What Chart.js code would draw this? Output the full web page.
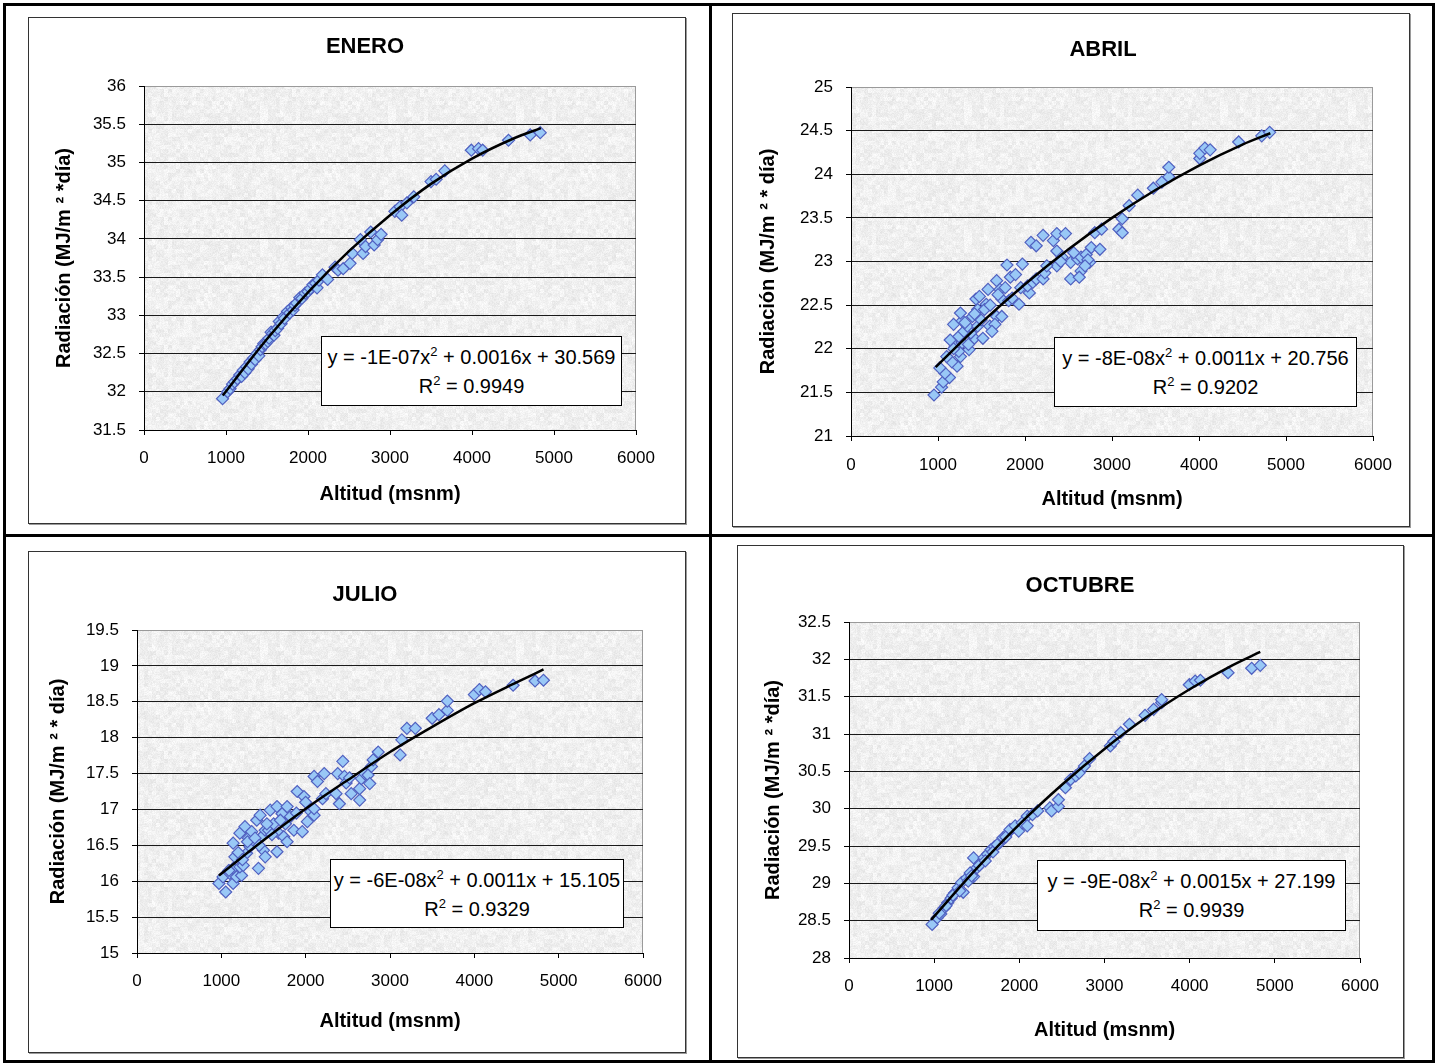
<!DOCTYPE html>
<html>
<head>
<meta charset="utf-8">
<title>Radiación vs Altitud</title>
<script src="https://cdn.jsdelivr.net/npm/chart.js@4.4.1/dist/chart.umd.min.js"></script>
<style>
    html, body { margin: 0; padding: 0; background: #fff; }
    body { width: 1439px; height: 1063px; position: relative; overflow: hidden;
           font-family: "Liberation Sans", Arial, sans-serif; color: #000; }
    .rule { position: absolute; background: #000; }
    .frame { position: absolute; background: #fff; border: 1px solid #333;
             box-shadow: 1px 1px 0 #9a9a9a; box-sizing: border-box; }
    canvas { position: absolute; }
    .eq { position: absolute; background: #fff; border: 1px solid #000; box-sizing: border-box;
          font-size: 20px; line-height: 29px; padding-top: 6px; text-align: center;
          white-space: nowrap; }
    .eq sup { font-size: 13px; line-height: 0; vertical-align: 8px; }
</style>
</head>
<body>
<div class="rule" style="left:3px;top:3px;width:1432px;height:3px"></div>
<div class="rule" style="left:3px;top:1060px;width:1432px;height:3px"></div>
<div class="rule" style="left:3px;top:3px;width:3px;height:1060px"></div>
<div class="rule" style="left:1432px;top:3px;width:3px;height:1060px"></div>
<div class="rule" style="left:709px;top:3px;width:3px;height:1060px"></div>
<div class="rule" style="left:3px;top:534px;width:1432px;height:3px"></div>

<div class="frame" style="left:28px;top:17px;width:658px;height:507px"></div>
<div class="frame" style="left:732px;top:13px;width:678px;height:514px"></div>
<div class="frame" style="left:28px;top:551px;width:658px;height:502px"></div>
<div class="frame" style="left:737px;top:545px;width:667px;height:513px"></div>

<canvas id="enero" width="658" height="507" style="left:28px;top:17px"></canvas>
<canvas id="abril" width="678" height="514" style="left:732px;top:13px"></canvas>
<canvas id="julio" width="658" height="502" style="left:28px;top:551px"></canvas>
<canvas id="octubre" width="667" height="513" style="left:737px;top:545px"></canvas>

<div class="eq" style="left:321px;top:336px;width:301px;height:70px">y = -1E-07x<sup>2</sup> + 0.0016x + 30.569<br>R<sup>2</sup> = 0.9949</div>
<div class="eq" style="left:1054px;top:337px;width:303px;height:70px">y = -8E-08x<sup>2</sup> + 0.0011x + 20.756<br>R<sup>2</sup> = 0.9202</div>
<div class="eq" style="left:330px;top:859px;width:294px;height:69px">y = -6E-08x<sup>2</sup> + 0.0011x + 15.105<br>R<sup>2</sup> = 0.9329</div>
<div class="eq" style="left:1037px;top:860px;width:309px;height:71px">y = -9E-08x<sup>2</sup> + 0.0015x + 27.199<br>R<sup>2</sup> = 0.9939</div>

<script>
(function () {
    'use strict';

    // ---- data ----
    var X_TICKS = [0, 1000, 2000, 3000, 4000, 5000, 6000];

    var eneroAlt = [958, 1020, 1050, 1080, 1105, 1140, 1168, 1190, 1210, 1230, 1252, 1270, 1294, 1310, 1336,
        1355, 1378, 1400, 1420, 1441, 1460, 1483, 1510, 1525, 1550, 1567, 1585, 1600, 1630, 1650, 1672,
        1700, 1714, 1750, 1777, 1800, 1819, 1840, 1861, 1900, 1924, 1966, 2000, 2029, 2060, 2092, 2110,
        2134, 2176, 2239, 2330, 2366, 2429, 2513, 2540, 2639, 2672, 2702, 2765, 2807, 2849, 2891, 3059,
        3122, 3143, 3206, 3290, 3500, 3563, 3668, 3992, 4080, 4130, 4445, 4710, 4832];
    var eneroRad = [31.91, 32.00, 32.04, 32.10, 32.13, 32.17, 32.22, 32.20, 32.28, 32.25, 32.33, 32.30, 32.39, 32.36, 32.44,
        32.42, 32.50, 32.47, 32.55, 32.59, 32.63, 32.63, 32.66, 32.70, 32.78, 32.76, 32.74, 32.80, 32.83, 32.92, 32.89,
        32.98, 32.96, 33.05, 33.03, 33.10, 33.07, 33.13, 33.16, 33.23, 33.22, 33.29, 33.31, 33.35, 33.40, 33.42, 33.36,
        33.46, 33.53, 33.47, 33.63, 33.59, 33.61, 33.68, 33.81, 33.99, 33.81, 33.90, 34.09, 33.92, 33.99, 34.06, 34.36,
        34.42, 34.31, 34.47, 34.55, 34.75, 34.78, 34.89, 35.16, 35.18, 35.16, 35.29, 35.36, 35.39];
    var eneroTrendAlt = [960, 1500, 2000, 2500, 3000, 3500, 4000, 4500, 4840];
    var eneroTrendRad = [31.95, 32.69, 33.30, 33.84, 34.31, 34.72, 35.05, 35.31, 35.45];

    var abrilAlt = [954, 1041, 1060, 1132, 1080, 1021, 1219, 1159, 1258, 1100, 1239, 1199, 1357, 1278,
        1140, 1417, 1239, 1516, 1377, 1298, 1179, 1338, 1456, 1278, 1397, 1258, 1456, 1555, 1674, 1733,
        1595, 1654, 1496, 1535, 1436, 1476, 1575, 1674, 1713, 1773, 1733, 1812, 1852, 1793, 1832, 1891,
        1931, 1970, 1951, 2050, 2030, 2089, 2129, 2069, 2129, 2208, 2228, 2208, 2326, 2366, 2465, 2366,
        2366, 2426, 2525, 2525, 2644, 2624, 2604, 2644, 2703, 2743, 2762, 2723, 2861, 2802, 2881, 3079,
        3118, 3118, 3197, 3296, 3475, 3573, 3653, 3653, 4009, 4009, 4068, 4128, 4456, 4721, 4812,
        1180, 1310, 1350, 1420, 1600, 1620, 1690, 2250, 2410, 2560, 2690];
    var abrilRad = [21.47, 21.56, 21.62, 21.67, 21.72, 21.78, 21.80, 21.85, 21.91, 21.91, 21.97, 22.03, 21.99, 22.07,
        22.10, 22.12, 22.14, 22.12, 22.18, 22.20, 22.28, 22.26, 22.26, 22.32, 22.37, 22.41, 22.45, 22.51, 22.37, 22.37,
        22.26, 22.28, 22.33, 22.45, 22.57, 22.60, 22.68, 22.78, 22.68, 22.70, 22.57, 22.55, 22.58, 22.96, 22.82, 22.85,
        22.51, 22.97, 22.70, 22.64, 22.72, 22.76, 22.80, 23.22, 23.18, 22.80, 22.87, 23.30, 23.24, 23.32, 23.32, 23.12,
        22.95, 23.05, 22.99, 22.80, 22.89, 22.82, 23.03, 23.05, 23.08, 22.99, 23.16, 23.02, 23.14, 23.33, 23.37, 23.37,
        23.33, 23.49, 23.64, 23.76, 23.84, 23.91, 23.97, 24.08, 24.18, 24.24, 24.30, 24.28, 24.37, 24.44, 24.48,
        22.00, 22.30, 22.05, 22.40, 22.50, 22.20, 22.62, 22.95, 23.00, 23.10, 22.95];
    var abrilTrendAlt = [973, 1500, 2000, 2500, 3000, 3500, 4000, 4500, 4820];
    var abrilTrendRad = [21.79, 22.30, 22.74, 23.14, 23.50, 23.82, 24.10, 24.34, 24.47];

    var julioAlt = [972, 1052, 1020, 1100, 1140, 1140, 1180, 1240, 1220, 1160, 1140, 1260, 1300, 1220,
        1280, 1340, 1320, 1380, 1360, 1420, 1440, 1460, 1480, 1500, 1520, 1520, 1560, 1580, 1620, 1660,
        1660, 1680, 1720, 1740, 1780, 1760, 1780, 1820, 1860, 1900, 1960, 1980, 2020, 2060, 2100, 2100,
        2100, 2140, 2200, 2220, 2240, 2360, 2380, 2400, 2440, 2460, 2480, 2520, 2540, 2640, 2640, 2660,
        2700, 2740, 2760, 2780, 2800, 2860, 3120, 3140, 3200, 3300, 3500, 3580, 3680, 3680, 4000, 4060,
        4132, 4460, 4720, 4820, 1090, 1200, 1250, 1310, 1400, 1450, 1540, 1600, 1700, 1890, 2000];
    var julioRad = [15.97, 15.85, 16.06, 16.11, 15.97, 16.18, 16.06, 16.08, 16.20, 16.34, 16.53, 16.22, 16.39, 16.67,
        16.76, 16.48, 16.60, 16.57, 16.69, 16.85, 16.18, 16.92, 16.62, 16.43, 16.34, 16.71, 16.71, 16.99, 16.80, 17.04,
        16.41, 16.67, 16.94, 16.62, 17.04, 16.80, 16.55, 16.90, 16.71, 17.25, 16.69, 17.18, 16.83, 16.97, 16.92, 17.01,
        17.46, 17.39, 17.15, 17.50, 17.22, 17.22, 17.50, 17.08, 17.67, 17.46, 17.37, 17.44, 17.22, 17.13, 17.29, 17.43,
        17.50, 17.48, 17.36, 17.60, 17.69, 17.80, 17.76, 17.97, 18.13, 18.13, 18.27, 18.32, 18.38, 18.51, 18.60, 18.67,
        18.64, 18.73, 18.79, 18.80, 16.15, 16.40, 16.30, 16.55, 16.60, 16.50, 16.80, 16.65, 16.85, 16.95, 17.10];
    var julioTrendAlt = [972, 1500, 2000, 2500, 3000, 3500, 4000, 4500, 4820];
    var julioTrendRad = [16.08, 16.57, 17.01, 17.41, 17.80, 18.15, 18.48, 18.77, 18.95];

    var octubreAlt = [976, 1037, 1077, 1118, 1159, 1199, 1240, 1280, 1321, 1341, 1382, 1423, 1463, 1463,
        1504, 1545, 1585, 1626, 1667, 1707, 1768, 1809, 1870, 1890, 1951, 1992, 2033, 2093, 2093, 2154,
        2215, 2358, 2378, 2459, 2459, 2541, 2602, 2663, 2703, 2764, 2825, 3069, 3110, 3191, 3293, 3476,
        3577, 3671, 3671, 3996, 4065, 4126, 4451, 4728, 4829, 1060, 1140, 1220, 1300, 1400, 1440, 1530,
        1600, 1690, 1740, 1840];
    var octubreRad = [28.45, 28.54, 28.59, 28.67, 28.74, 28.80, 28.87, 28.94, 29.01, 28.88, 29.07, 29.14, 29.34, 29.09,
        29.21, 29.27, 29.34, 29.39, 29.45, 29.49, 29.54, 29.61, 29.68, 29.72, 29.77, 29.70, 29.81, 29.90, 29.77, 29.92,
        29.97, 30.01, 29.97, 30.03, 30.12, 30.28, 30.39, 30.44, 30.48, 30.57, 30.67, 30.84, 30.90, 31.02, 31.13, 31.25,
        31.33, 31.42, 31.46, 31.66, 31.71, 31.72, 31.82, 31.88, 31.92, 28.60, 28.70, 28.84, 28.90, 29.03, 29.10, 29.24,
        29.30, 29.42, 29.52, 29.62];
    var octubreTrendAlt = [963, 1500, 2000, 2500, 3000, 3500, 4000, 4500, 4829];
    var octubreTrendRad = [28.51, 29.20, 29.79, 30.32, 30.80, 31.23, 31.60, 31.92, 32.10];

    // ---- page geometry of each chart box (page pixels) ----
    var LAYOUTS = {
        enero:   { frame: [28, 17, 658, 507],  plot: [144, 86, 636, 430],  title: [365, 47],   xLabelY: 458, xTitleY: 494,  yTitleX: 64 },
        abril:   { frame: [732, 13, 678, 514], plot: [851, 87, 1373, 436], title: [1103, 50],  xLabelY: 465, xTitleY: 499,  yTitleX: 768 },
        julio:   { frame: [28, 551, 658, 502], plot: [137, 630, 643, 953], title: [365, 595],  xLabelY: 981, xTitleY: 1021, yTitleX: 58 },
        octubre: { frame: [737, 545, 667, 513], plot: [849, 622, 1360, 958], title: [1080, 586], xLabelY: 986, xTitleY: 1030, yTitleX: 773 }
    };

    var TICK_FONT = 17;
    var AXIS_TITLE_FONT = 20;
    var TITLE_FONT = 22;

    Chart.defaults.font.family = '"Liberation Sans", Arial, sans-serif';
    Chart.defaults.color = '#000';

    // granite-like grey texture for the plot area (deterministic hash noise)
    function hash(x, y) {
        var h = Math.imul(x, 374761393) + Math.imul(y, 668265263);
        h = Math.imul(h ^ (h >>> 13), 1274126177);
        return ((h ^ (h >>> 16)) >>> 0) / 4294967295;
    }
    var texture = document.createElement('canvas');
    texture.width = 128;
    texture.height = 128;
    (function () {
        var tctx = texture.getContext('2d');
        var img = tctx.createImageData(128, 128);
        for (var y = 0; y < 128; y++) {
            for (var x = 0; x < 128; x++) {
                var v = 0.5 * hash(x, y) + 0.5 * hash((x >> 2) + 1000, (y >> 2) + 2000);
                var g = Math.round(226 + v * 28);
                var i = (y * 128 + x) * 4;
                img.data[i] = g;
                img.data[i + 1] = g;
                img.data[i + 2] = g;
                img.data[i + 3] = 255;
            }
        }
        tctx.putImageData(img, 0, 0);
    })();

    var plotDecor = {
        id: 'plotDecor',
        beforeDraw: function (chart) {
            var a = chart.chartArea;
            var ctx = chart.ctx;
            ctx.save();
            ctx.fillStyle = ctx.createPattern(texture, 'repeat');
            ctx.fillRect(a.left, a.top, a.right - a.left, a.bottom - a.top);
            ctx.strokeStyle = '#9a9a9a';
            ctx.lineWidth = 1;
            ctx.strokeRect(a.left + 0.5, a.top + 0.5, a.right - a.left - 1, a.bottom - a.top);
            ctx.restore();
        },
        afterDraw: function (chart, args, opts) {
            if (!opts.text) {
                return;
            }
            var ctx = chart.ctx;
            ctx.save();
            ctx.font = 'bold ' + TITLE_FONT + 'px "Liberation Sans", Arial, sans-serif';
            ctx.fillStyle = '#000';
            ctx.textAlign = 'center';
            ctx.textBaseline = 'middle';
            ctx.fillText(opts.text, opts.x, opts.y);
            ctx.restore();
        }
    };

    function toPoints(xs, ys) {
        var pts = [];
        for (var i = 0; i < xs.length; i++) {
            pts.push({ x: xs[i], y: ys[i] });
        }
        return pts;
    }

    function makeChart(id, title, yTitle, alt, rad, trendAlt, trendRad, yMin, yMax) {
        var L = LAYOUTS[id];
        var fl = L.frame[0], ft = L.frame[1], fw = L.frame[2], fh = L.frame[3];
        var plotLeft = L.plot[0] - fl;
        var plotTop = L.plot[1] - ft;
        var plotRight = L.plot[2] - fl;
        var plotBottom = L.plot[3] - ft;

        var axisTitleHalf = AXIS_TITLE_FONT * 1.2 / 2;
        var xScaleBottom = L.xTitleY - ft + axisTitleHalf;
        var xScaleHeight = xScaleBottom - plotBottom;
        var yScaleLeft = L.yTitleX - fl - axisTitleHalf;
        var yScaleWidth = plotLeft - yScaleLeft;
        var xTickPad = L.xLabelY - ft - plotBottom - 5 - TICK_FONT * 1.2 / 2;

        return new Chart(document.getElementById(id), {
            type: 'scatter',
            data: {
                datasets: [{
                    label: 'Tendencia',
                    data: toPoints(trendAlt, trendRad),
                    showLine: true,
                    borderColor: '#000',
                    borderWidth: 2.5,
                    pointRadius: 0,
                    tension: 0.4,
                    cubicInterpolationMode: 'monotone',
                    order: 0
                }, {
                    label: 'Radiación',
                    data: toPoints(alt, rad),
                    pointStyle: 'rectRot',
                    pointRadius: 6,
                    backgroundColor: '#99c8f6',
                    borderColor: '#5060c0',
                    borderWidth: 1.2,
                    order: 1
                }]
            },
            options: {
                responsive: false,
                animation: false,
                events: [],
                layout: {
                    padding: {
                        left: yScaleLeft,
                        top: plotTop,
                        right: fw - plotRight,
                        bottom: fh - xScaleBottom
                    }
                },
                plugins: {
                    legend: { display: false },
                    tooltip: { enabled: false },
                    plotDecor: { text: title, x: L.title[0] - fl, y: L.title[1] - ft }
                },
                scales: {
                    x: {
                        type: 'linear',
                        min: 0,
                        max: 6000,
                        afterBuildTicks: function (scale) {
                            scale.ticks = X_TICKS.map(function (v) { return { value: v }; });
                        },
                        afterFit: function (scale) { scale.height = xScaleHeight; },
                        ticks: {
                            font: { size: TICK_FONT },
                            padding: xTickPad,
                            maxRotation: 0,
                            callback: function (v) { return String(v); }
                        },
                        grid: {
                            drawOnChartArea: false,
                            drawTicks: true,
                            tickLength: 5,
                            tickColor: '#000'
                        },
                        border: { display: true, color: '#000', width: 1 },
                        title: {
                            display: true,
                            text: 'Altitud (msnm)',
                            font: { size: AXIS_TITLE_FONT, weight: 'bold' },
                            padding: 0
                        }
                    },
                    y: {
                        min: yMin,
                        max: yMax,
                        afterFit: function (scale) { scale.width = yScaleWidth; },
                        ticks: {
                            stepSize: 0.5,
                            font: { size: TICK_FONT },
                            padding: 13,
                            callback: function (v) { return String(Math.round(v * 10) / 10); }
                        },
                        grid: {
                            color: function (c) {
                                return c.tick && c.tick.value === yMax ? '#9a9a9a' : '#1a1a1a';
                            },
                            lineWidth: 1,
                            tickLength: 5,
                            tickColor: '#000'
                        },
                        border: { display: true, color: '#000', width: 1 },
                        title: {
                            display: true,
                            text: yTitle,
                            font: { size: AXIS_TITLE_FONT, weight: 'bold' },
                            padding: 0
                        }
                    }
                }
            },
            plugins: [plotDecor]
        });
    }

    makeChart('enero', 'ENERO', 'Radiación (MJ/m ² *día)',
        eneroAlt, eneroRad, eneroTrendAlt, eneroTrendRad, 31.5, 36);
    makeChart('abril', 'ABRIL', 'Radiación (MJ/m ² * día)',
        abrilAlt, abrilRad, abrilTrendAlt, abrilTrendRad, 21, 25);
    makeChart('julio', 'JULIO', 'Radiación (MJ/m ² * día)',
        julioAlt, julioRad, julioTrendAlt, julioTrendRad, 15, 19.5);
    makeChart('octubre', 'OCTUBRE', 'Radiación (MJ/m ² *día)',
        octubreAlt, octubreRad, octubreTrendAlt, octubreTrendRad, 28, 32.5);
})();
</script>
</body>
</html>
